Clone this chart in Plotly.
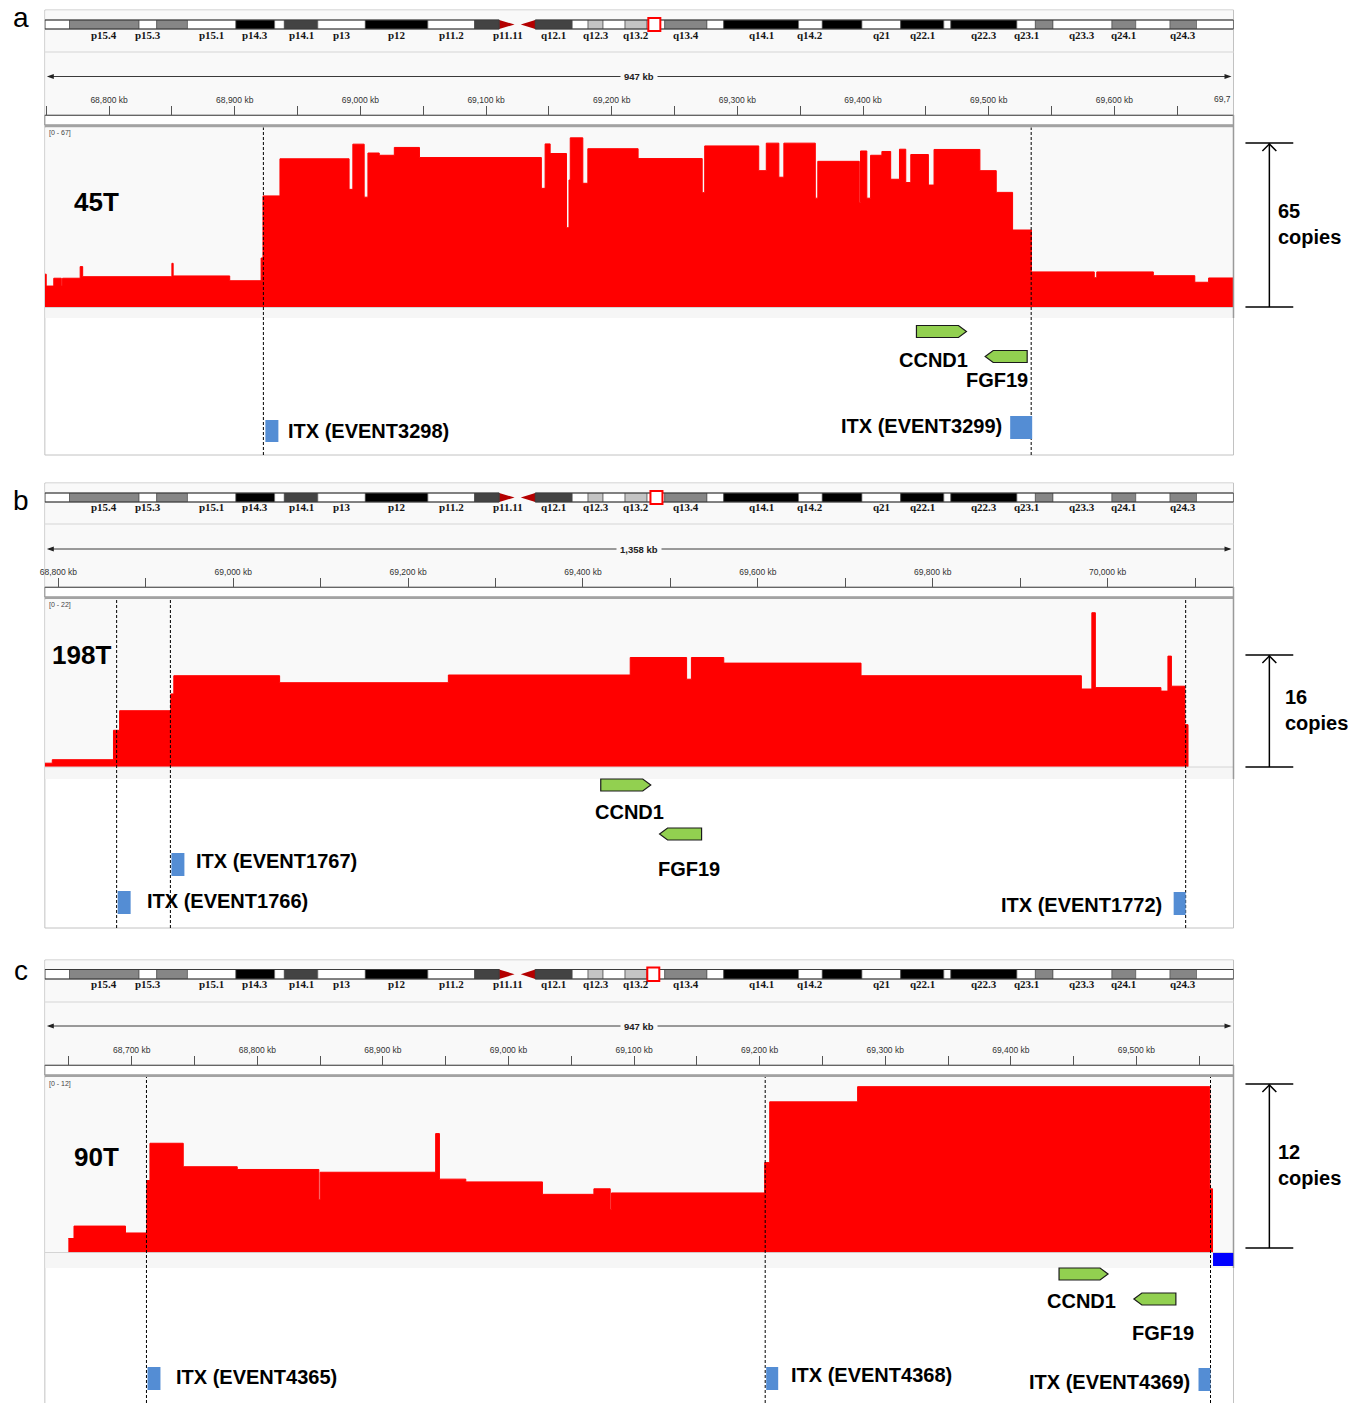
import plotly.graph_objects as go

W, H = 1368, 1403

# ---------------- DATA ----------------
# Chromosome 11 ideogram (Mb)
band_names = ["p15.5", "p15.4", "p15.3", "p15.2", "p15.1", "p14.3", "p14.2", "p14.1", "p13", "p12",
              "p11.2", "p11.12", "p11.11", "q11", "q12.1", "q12.2", "q12.3", "q13.1", "q13.2", "q13.3",
              "q13.4", "q13.5", "q14.1", "q14.2", "q14.3", "q21", "q22.1", "q22.2", "q22.3", "q23.1",
              "q23.2", "q23.3", "q24.1", "q24.2", "q24.3", "q25"]
band_starts = [0.0, 2.8, 10.7, 12.7, 16.2, 21.7, 26.1, 27.2, 31.0, 36.4,
               43.5, 48.8, 51.6, 53.7, 55.7, 59.9, 61.7, 63.4, 65.9, 68.4,
               70.4, 75.2, 77.1, 85.6, 88.3, 92.8, 97.2, 102.1, 102.9, 110.4,
               112.5, 114.5, 121.2, 123.9, 127.8, 130.8]
band_stains = ["gneg", "gpos50", "gneg", "gpos50", "gneg", "gpos100", "gneg", "gpos75", "gneg", "gpos100",
               "gneg", "gpos75", "acen", "acen", "gpos75", "gneg", "gpos25", "gneg", "gpos25", "gneg",
               "gpos50", "gneg", "gpos100", "gneg", "gpos100", "gneg", "gpos100", "gneg", "gpos100", "gneg",
               "gpos50", "gneg", "gpos50", "gneg", "gpos50", "gneg"]
chrom_length = 135.0
shown_band_labels = ["p15.4", "p15.3", "p15.1", "p14.3", "p14.1", "p13", "p12", "p11.2", "p11.11",
                     "q12.1", "q12.3", "q13.2", "q13.4", "q14.1", "q14.2", "q21", "q22.1", "q22.3",
                     "q23.1", "q23.3", "q24.1", "q24.3"]

# Panel a : 45T (segment start kb, copy number)
a_range = [68748.9, 69694.8]
a_pos = [68749, 68750, 68756, 68762, 68763, 68777, 68779, 68850, 68851, 68896,
         68921, 68922.5, 68936, 68991, 68994, 69003, 69006, 69015, 69027, 69047,
         69144, 69147, 69151, 69164, 69166, 69167, 69177, 69181, 69221, 69272,
         69274, 69317, 69323, 69333, 69337, 69362, 69364, 69397, 69398, 69403,
         69406, 69415, 69422, 69429, 69434, 69438, 69452, 69456.5, 69493, 69506,
         69519, 69534, 69584, 69586, 69631, 69664, 69675]
a_cn = [13.0, 8.3, 11.4, 8.3, 11.4, 16.0, 12.0, 17.3, 12.3, 10.4,
        19.4, 44.0, 58.7, 46.6, 64.5, 43.5, 61.0, 60.1, 63.2, 59.2,
        47.0, 64.6, 60.8, 31.4, 50.3, 67.0, 49.0, 62.7, 58.8, 45.3,
        63.8, 54.0, 64.9, 51.4, 64.9, 43.1, 57.7, 41.4, 61.8, 43.1,
        60.1, 61.6, 50.6, 62.5, 49.3, 60.4, 48.3, 62.4, 54.0, 45.4,
        30.5, 13.9, 11.6, 13.9, 12.4, 9.8, 11.5]
a_end = 69694.8
a_ticks = [68750, 68800, 68850, 68900, 68950, 69000, 69050, 69100, 69150, 69200,
           69250, 69300, 69350, 69400, 69450, 69500, 69550, 69600, 69650]
a_tick_text = ["", "68,800 kb", "", "68,900 kb", "", "69,000 kb", "", "69,100 kb", "", "69,200 kb",
               "", "69,300 kb", "", "69,400 kb", "", "69,500 kb", "", "69,600 kb", ""]
a_bp = [68922.8, 69533.8]
a_itx = ["ITX (EVENT3298)", "ITX (EVENT3299)"]
a_genes = [69462.4, 69513.9]

# Panel b : 198T
b_range = [68784.5, 70144.0]
b_pos = [68784.5, 68793, 68863, 68870, 68928.5, 68932, 69053, 69246, 69454, 69518.5,
         69524, 69561, 69718, 69970, 69982, 69986, 70061, 70069, 70073, 70088.5, 70092]
b_cn = [0.5, 1.0, 5.2, 8.0, 10.4, 13.0, 12.0, 13.1, 15.6, 12.5,
        15.6, 14.8, 13.0, 11.1, 22.0, 11.3, 10.8, 15.8, 11.5, 6.0, 0.0]
b_end = 70144.0
b_ticks = [68800, 68900, 69000, 69100, 69200, 69300, 69400, 69500, 69600, 69700,
           69800, 69900, 70000, 70100]
b_tick_text = ["68,800 kb", "", "69,000 kb", "", "69,200 kb", "", "69,400 kb", "", "69,600 kb", "",
               "69,800 kb", "", "70,000 kb", ""]
b_bp = [68866.6, 68928.1, 70089.3]
b_itx = ["ITX (EVENT1766)", "ITX (EVENT1767)", "ITX (EVENT1772)"]
b_genes = [69448.9, 69511.6]

# Panel c : 90T
c_range = [68630.8, 69577.3]
c_pos = [68649.5, 68654, 68695, 68712, 68714.5, 68741, 68784, 68849, 68850, 68942,
         68945, 68966, 69027, 69068, 69081, 69082, 69204, 69208, 69278, 69558.5, 69560.6]
c_cn = [1.0, 1.9, 1.4, 5.2, 7.9, 6.2, 6.0, 3.8, 5.8, 8.6,
        5.3, 5.1, 4.2, 4.6, 3.1, 4.3, 6.5, 10.9, 12.0, 4.6, 0.0]
c_end = 69577.3
c_ticks = [68650, 68700, 68750, 68800, 68850, 68900, 68950, 69000, 69050, 69100,
           69150, 69200, 69250, 69300, 69350, 69400, 69450, 69500, 69550]
c_tick_text = ["", "68,700 kb", "", "68,800 kb", "", "68,900 kb", "", "69,000 kb", "", "69,100 kb",
               "", "69,200 kb", "", "69,300 kb", "", "69,400 kb", "", "69,500 kb", ""]
c_bp = [68711.7, 69204.4, 69559.0]
c_itx = ["ITX (EVENT4365)", "ITX (EVENT4368)", "ITX (EVENT4369)"]
c_genes = [69457.9, 69514.7]
c_blue_start = 69561.0

gene_names = ["CCND1", "FGF19"]
gene_strands = ["+", "-"]
panel_letters = ["a", "b", "c"]
sample_names = ["45T", "198T", "90T"]
data_range_labels = ["[0 - 67]", "[0 - 22]", "[0 - 12]"]
span_labels = ["947 kb", "1,358 kb", "947 kb"]
scale_copies = [65, 16, 12]

# ---------------- GEOMETRY / STYLE ----------------
FW, FH = W, H


def fx(px):
    return px / FW


def fy(py):
    return 1 - py / FH


X0, X1 = 40, 1233
XDOM = [fx(X0), fx(X1)]
FONT = "Liberation Sans"
stain_colors = {"gneg": "#ffffff", "gpos25": "#c4c4c4", "gpos50": "#868686",
                "gpos75": "#434343", "gpos100": "#000000", "acen": "#b40000"}

panels = [
    dict(letter_y=18, frame=(10, 455), ideo=(20, 29), band_y=34.5, hdr_line=52, span_y=76.5,
         ruler=(115, 125), track=(127.5, 307), under=(307.5, 318), ymax=71.1,
         sample_xy=(67, 202), range_y=133, scale=(143, 307), scale_x=1276,
         rng=a_range, pos=a_pos, cn=a_cn, end=a_end, ticks=a_ticks, tick_text=a_tick_text,
         bp=a_bp, itx=a_itx, genes=a_genes,
         gene_geo=[dict(y=331.5, w=50, lx=-8, ly=360), dict(y=356.5, w=42, lx=-9, ly=380)],
         itx_geo=[(2, 15, 420, 442, 23, 431, "left"), (-21, 1, 416, 439, -27, 426, "right")]),
    dict(letter_y=500, frame=(483, 928), ideo=(493, 502), band_y=507.5, hdr_line=524, span_y=549,
         ruler=(587, 597), track=(599, 766.7), under=(767, 779), ymax=23.96,
         sample_xy=(45, 655), range_y=605, scale=(655, 767), scale_x=1283,
         rng=b_range, pos=b_pos, cn=b_cn, end=b_end, ticks=b_ticks, tick_text=b_tick_text,
         bp=b_bp, itx=b_itx, genes=b_genes,
         gene_geo=[dict(y=785, w=50, lx=4, ly=812), dict(y=834, w=42, lx=8, ly=869)],
         itx_geo=[(1, 14, 891, 914, 28, 901, "left"), (1, 14, 853, 876, 24, 861, "left"),
                  (-12, 0, 892, 915, -22, 905, "right")]),
    dict(letter_y=970, frame=(960, 1420), ideo=(969.5, 979), band_y=984.5, hdr_line=1002, span_y=1026,
         ruler=(1065, 1075), track=(1077, 1252.3), under=(1252.5, 1268), ymax=12.7,
         sample_xy=(67, 1157), range_y=1084, scale=(1084, 1248), scale_x=1276,
         rng=c_range, pos=c_pos, cn=c_cn, end=c_end, ticks=c_ticks, tick_text=c_tick_text,
         bp=c_bp, itx=c_itx, genes=c_genes,
         gene_geo=[dict(y=1274, w=49, lx=-2, ly=1301), dict(y=1299, w=42, lx=8, ly=1333)],
         itx_geo=[(1, 14, 1367, 1390, 28, 1377, "left"), (1, 13, 1367, 1390, 24, 1375, "left"),
                  (-12, 0, 1368, 1391, -19, 1382, "right")]),
]

fig = go.Figure()
shapes = []
annots = []
axes = {}


def axname(kind, n):
    return f"{kind}axis" if n == 1 else f"{kind}axis{n}"


def ref(kind, n):
    return kind if n == 1 else f"{kind}{n}"


# ideogram coordinate axis (Mb)
IDX = 4
axes[axname("x", IDX)] = dict(domain=XDOM, range=[0, chrom_length], anchor=ref("y", IDX),
                              visible=False, fixedrange=True)
axes[axname("y", IDX)] = dict(domain=[0.999, 1.0], range=[0, 1], anchor=ref("x", IDX),
                              visible=False, fixedrange=True)
xid = ref("x", IDX)
fig.add_trace(go.Scatter(x=[], y=[], xaxis=xid, yaxis=ref("y", IDX), showlegend=False,
                         hoverinfo="skip"))

band_ends = band_starts[1:] + [chrom_length]
cen_idx = [i for i, s in enumerate(band_stains) if s == "acen"]
p_end = band_starts[cen_idx[0]]
q_start = band_ends[cen_idx[-1]]
cen_mid = band_ends[cen_idx[0]]


def arrow_path(w, h, tip, strand):
    hw, hh = w / 2.0, h / 2.0
    if strand == "+":
        return f"M {-hw},{-hh} L {hw - tip},{-hh} L {hw},0 L {hw - tip},{hh} L {-hw},{hh} Z"
    return f"M {hw},{-hh} L {-hw + tip},{-hh} L {-hw},0 L {-hw + tip},{hh} L {hw},{hh} Z"


for i, P in enumerate(panels):
    n = i + 1
    xt, yt = ref("x", n), ref("y", n)
    ft, fb = P["frame"]
    it, ib = P["ideo"]
    rt, rb = P["ruler"]
    tt, tb = P["track"]

    # ---- axes: the x axis doubles as the kb ruler, placed at the ruler line ----
    axes[axname("x", n)] = dict(
        domain=XDOM, range=P["rng"], anchor="free", position=fy(rt), side="top",
        tickmode="array", tickvals=P["ticks"], ticktext=P["tick_text"], ticks="outside",
        ticklen=9, tickwidth=1, tickcolor="#555555", showline=True, linecolor="#666666",
        linewidth=1, showgrid=False, zeroline=False, fixedrange=True,
        tickfont=dict(family=FONT, size=8.5, color="#333333"))
    axes[axname("y", n)] = dict(domain=[fy(tb), fy(tt)], range=[0, P["ymax"]], anchor=xt,
                                visible=False, fixedrange=True)

    # ---- copy-number step track ----
    if P["cn"][-1] == 0:
        xs, ys = list(P["pos"]), list(P["cn"])
    else:
        xs = list(P["pos"]) + [P["end"]]
        ys = list(P["cn"]) + [P["cn"][-1]]
    fig.add_trace(go.Scatter(x=xs, y=ys, mode="lines", xaxis=xt, yaxis=yt,
                             line=dict(shape="hv", color="#ff0000", width=1),
                             fill="tozeroy", fillcolor="#ff0000", hoverinfo="skip",
                             showlegend=False))

    # ---- backgrounds ----
    shapes.append(dict(type="rect", xref="paper", yref="paper", x0=fx(X0), x1=fx(X1),
                       y0=fy(fb), y1=fy(ft), fillcolor="#ffffff",
                       line=dict(color="#c2c2c2", width=1), layer="below"))
    shapes.append(dict(type="rect", xref="paper", yref="paper", x0=fx(X0 + 0.5), x1=fx(X1 - 0.5),
                       y0=fy(rt), y1=fy(ft + 0.5), fillcolor="#f9f9f9", line=dict(width=0),
                       layer="below"))
    shapes.append(dict(type="line", xref="paper", yref="paper", x0=fx(X0), x1=fx(X1),
                       y0=fy(P["hdr_line"]), y1=fy(P["hdr_line"]),
                       line=dict(color="#e0e0e0", width=1.5), layer="below"))
    shapes.append(dict(type="rect", xref="paper", yref="paper", x0=fx(X0), x1=fx(X1),
                       y0=fy(rb), y1=fy(rt), fillcolor="#ffffff",
                       line=dict(color="#8a8a8a", width=1), layer="below"))
    shapes.append(dict(type="rect", xref="paper", yref="paper", x0=fx(X0), x1=fx(X1),
                       y0=fy(rb + 2.5), y1=fy(rb - 0.5), fillcolor="#a3a3a3",
                       line=dict(width=0), layer="below"))
    shapes.append(dict(type="rect", xref="paper", yref="paper", x0=fx(X0 + 0.5), x1=fx(X1 - 0.5),
                       y0=fy(tb), y1=fy(tt), fillcolor="#f9f9f9", line=dict(width=0),
                       layer="below"))
    ut, ub = P["under"]
    shapes.append(dict(type="rect", xref="paper", yref="paper", x0=fx(X0 + 0.5), x1=fx(X1 - 0.5),
                       y0=fy(ub), y1=fy(ut), fillcolor="#f6f6f6", line=dict(width=0),
                       layer="below"))
    shapes.append(dict(type="line", xref="paper", yref="paper", x0=fx(X0), x1=fx(X1),
                       y0=fy(ut), y1=fy(ut), line=dict(color="#d4d4d4", width=1), layer="below"))
    shapes.append(dict(type="line", xref="paper", yref="paper", x0=fx(X1), x1=fx(X1),
                       y0=fy(ub), y1=fy(rt), line=dict(color="#9a9a9a", width=1.5), layer="above"))

    # ---- ideogram ----
    for s, e, st in zip(band_starts, band_ends, band_stains):
        if st == "acen":
            continue
        shapes.append(dict(type="rect", xref=xid, yref="paper", x0=s, x1=e, y0=fy(ib), y1=fy(it),
                           fillcolor=stain_colors[st], line=dict(color="#4a4a4a", width=0.6),
                           layer="above"))
    ymid = (fy(ib) + fy(it)) / 2
    shapes.append(dict(type="path", xref=xid, yref="paper",
                       path=f"M {p_end},{fy(it)} L {cen_mid - 0.35},{ymid} L {p_end},{fy(ib)} Z",
                       fillcolor=stain_colors["acen"], line=dict(width=0), layer="above"))
    shapes.append(dict(type="path", xref=xid, yref="paper",
                       path=f"M {q_start},{fy(it)} L {cen_mid + 0.35},{ymid} L {q_start},{fy(ib)} Z",
                       fillcolor=stain_colors["acen"], line=dict(width=0), layer="above"))
    for a0, a1 in [(0, p_end), (q_start, chrom_length)]:
        shapes.append(dict(type="rect", xref=xid, yref="paper", x0=a0, x1=a1, y0=fy(ib), y1=fy(it),
                           line=dict(color="#3a3a3a", width=1), layer="above"))
    reg_mid = (P["rng"][0] + P["rng"][1]) / 2000.0
    shapes.append(dict(type="rect", xref=xid, yref="paper", xsizemode="pixel", xanchor=reg_mid,
                       x0=-6, x1=6, y0=fy(ib + 2), y1=fy(it - 2), fillcolor="#ffffff",
                       line=dict(color="#ff0000", width=2), layer="above"))
    for nm, s, e in zip(band_names, band_starts, band_ends):
        if nm in shown_band_labels:
            annots.append(dict(xref=xid, yref="paper", x=(s + e) / 2, y=fy(P["band_y"]),
                               text=nm, showarrow=False, xanchor="center", yanchor="middle",
                               font=dict(family="Liberation Serif", size=11, color="#151515",
                                         weight="bold")))

    # ---- span arrow ----
    sy = P["span_y"]
    shapes.append(dict(type="line", xref="paper", yref="paper", x0=fx(X0 + 4), x1=fx(X1 - 4),
                       y0=fy(sy), y1=fy(sy), line=dict(color="#3a3a3a", width=1), layer="above"))
    shapes.append(dict(type="path", xref="paper", yref="paper",
                       path=f"M {fx(X0 + 2)},{fy(sy)} L {fx(X0 + 9)},{fy(sy - 2.5)} L {fx(X0 + 9)},{fy(sy + 2.5)} Z",
                       fillcolor="#222222", line=dict(width=0), layer="above"))
    shapes.append(dict(type="path", xref="paper", yref="paper",
                       path=f"M {fx(X1 - 2)},{fy(sy)} L {fx(X1 - 9)},{fy(sy - 2.5)} L {fx(X1 - 9)},{fy(sy + 2.5)} Z",
                       fillcolor="#222222", line=dict(width=0), layer="above"))
    annots.append(dict(xref="paper", yref="paper", x=fx(636), y=fy(sy), text=span_labels[i],
                       showarrow=False, xanchor="center", yanchor="middle", bgcolor="#f9f9f9",
                       borderpad=3, font=dict(family=FONT, size=9.5, color="#222222", weight="bold")))

    # ---- dashed breakpoint lines ----
    for b in P["bp"]:
        shapes.append(dict(type="line", xref=xt, yref="paper", x0=b, x1=b, y0=fy(min(fb, H + 5)),
                           y1=fy(tt), line=dict(color="#000000", width=1, dash="3px,2px"),
                           layer="above"))

    # ---- genes ----
    for g, gname, strand, gg in zip(P["genes"], gene_names, gene_strands, P["gene_geo"]):
        shapes.append(dict(type="path", xref=xt, yref="paper", xsizemode="pixel",
                           ysizemode="pixel", xanchor=g, yanchor=fy(gg["y"]),
                           path=arrow_path(gg["w"], 12, 8, strand), fillcolor="#92d050",
                           line=dict(color="#1a1a1a", width=1.2), layer="above"))
        annots.append(dict(xref=xt, yref="paper", x=g, xshift=gg["lx"], y=fy(gg["ly"]),
                           text=gname, showarrow=False, xanchor="center", yanchor="middle",
                           font=dict(family=FONT, size=20, color="#000000", weight="bold")))

    # ---- ITX events ----
    for b, lab, (o0, o1, y0, y1, toff, ty, anc) in zip(P["bp"], P["itx"], P["itx_geo"]):
        shapes.append(dict(type="rect", xref=xt, yref="paper", xsizemode="pixel", xanchor=b,
                           x0=o0, x1=o1, y0=fy(y1), y1=fy(y0), fillcolor="#548dd4",
                           line=dict(width=0), layer="above"))
        annots.append(dict(xref=xt, yref="paper", x=b, xshift=toff, y=fy(ty), text=lab,
                           showarrow=False, xanchor=anc, yanchor="middle",
                           font=dict(family=FONT, size=20, color="#000000", weight="bold")))

    # ---- labels ----
    annots.append(dict(xref="paper", yref="paper", x=fx(16), y=fy(P["letter_y"]),
                       text=panel_letters[i], showarrow=False, xanchor="center", yanchor="middle",
                       font=dict(family=FONT, size=28, color="#000000")))
    sx, syl = P["sample_xy"]
    annots.append(dict(xref="paper", yref="paper", x=fx(sx), y=fy(syl), text=sample_names[i],
                       showarrow=False, xanchor="left", yanchor="middle",
                       font=dict(family=FONT, size=26, color="#000000", weight="bold")))
    annots.append(dict(xref="paper", yref="paper", x=fx(42), y=fy(P["range_y"]),
                       text=data_range_labels[i], showarrow=False, xanchor="left", yanchor="middle",
                       font=dict(family=FONT, size=7, color="#444444")))

    # ---- copy-number scale bar ----
    st_, sb_ = P["scale"]
    shapes.append(dict(type="line", xref="paper", yref="paper", x0=fx(1269), x1=fx(1269),
                       y0=fy(sb_), y1=fy(st_), line=dict(color="#000000", width=1.5)))
    for yy in (st_, sb_):
        shapes.append(dict(type="line", xref="paper", yref="paper", x0=fx(1245), x1=fx(1293),
                           y0=fy(yy), y1=fy(yy), line=dict(color="#000000", width=1.5)))
    shapes.append(dict(type="path", xref="paper", yref="paper",
                       path=f"M {fx(1262)},{fy(st_ + 8)} L {fx(1269)},{fy(st_ + 1)} L {fx(1276)},{fy(st_ + 8)}",
                       line=dict(color="#000000", width=1.5)))
    annots.append(dict(xref="paper", yref="paper", x=fx(P["scale_x"]), y=fy((st_ + sb_) / 2 - 1),
                       text=f"{scale_copies[i]}<br>copies", showarrow=False, xanchor="left",
                       yanchor="middle", align="left",
                       font=dict(family=FONT, size=20, color="#000000", weight="bold")))

    if i == 0:
        annots.append(dict(xref="paper", yref="paper", x=fx(X1), y=fy(98.5), text="69,7",
                           showarrow=False, xanchor="right", yanchor="middle",
                           font=dict(family=FONT, size=8.5, color="#333333")))
    if i == 2:
        shapes.append(dict(type="rect", xref=xt, yref="paper", x0=c_blue_start, x1=P["rng"][1],
                           y0=fy(1266), y1=fy(1253), fillcolor="#0000ff", line=dict(width=0),
                           layer="above"))

fig.update_layout(
    width=FW, height=FH, autosize=False,
    margin=dict(l=0, r=0, t=0, b=0, pad=0),
    paper_bgcolor="#ffffff", plot_bgcolor="rgba(0,0,0,0)",
    showlegend=False, font=dict(family=FONT),
    shapes=shapes, annotations=annots, **axes)

fig.write_html(
    "out.html",
    config={"displayModeBar": False, "staticPlot": True},
    post_script="document.body.style.margin='0px';document.body.style.padding='0px';"
                "document.body.style.overflow='hidden';",
)
